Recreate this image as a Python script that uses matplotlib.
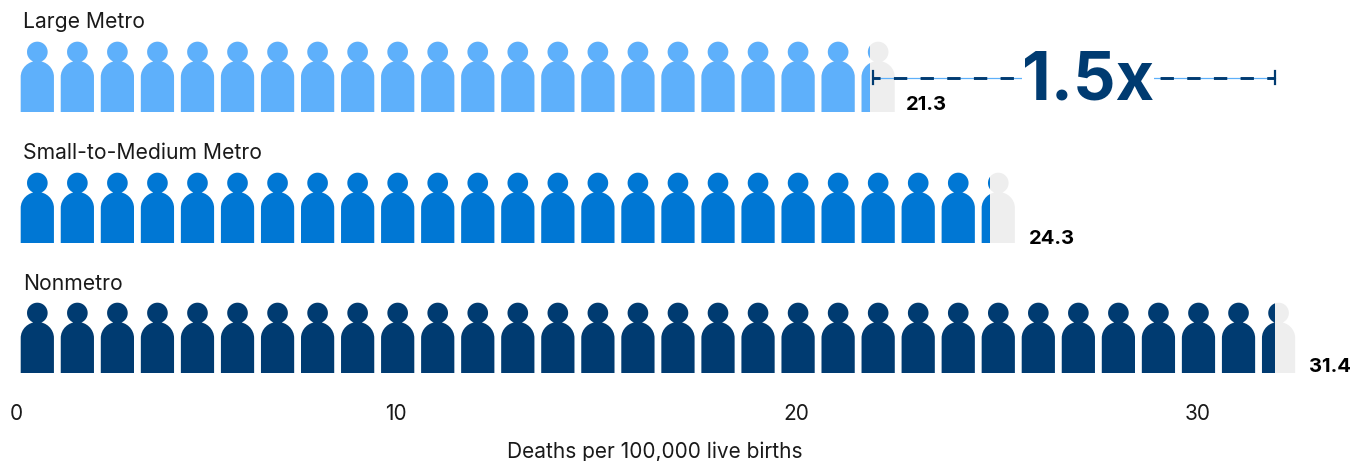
import numpy as np
import matplotlib.pyplot as plt
from matplotlib.path import Path
from matplotlib.patches import PathPatch, Rectangle

# Datos
categorias = ['Large Metro', 'Small-to-Medium Metro', 'Nonmetro']
tasas = [21.3, 24.3, 31.4]
colores = ['#5EB0FB', '#0077D4', '#003B71']
etiquetas_eje = ['0', '10', '20', '30']
posiciones_eje = [-0.03, 9.45, 19.46, 29.47]

GRIS = '#EEEEEE'
PX_POR_UNIDAD = 40.04
X0_PX = 17.3
bases = [112, 243, 373]
y_categorias = [22, 153, 284]
y_valores = [105, 239, 367]
x_valores = [22.19, 25.265, 32.265]


def figura_persona(cx, base):
    # Silueta: cabeza redonda y cuerpo en arco, medidas en pixeles
    ancho = 33.2 / PX_POR_UNIDAD / 2
    k = 0.5523
    alto_hombro = 35.0
    alto_total = 51.0
    cuerpo = [
        (cx - ancho, base), (cx - ancho, base - alto_hombro),
        (cx - ancho, base - alto_hombro - (alto_total - alto_hombro) * k),
        (cx - ancho * k, base - alto_total), (cx, base - alto_total),
        (cx + ancho * k, base - alto_total),
        (cx + ancho, base - alto_hombro - (alto_total - alto_hombro) * k),
        (cx + ancho, base - alto_hombro), (cx + ancho, base), (cx - ancho, base),
    ]
    codes = [Path.MOVETO, Path.LINETO, Path.CURVE4, Path.CURVE4, Path.CURVE4,
             Path.CURVE4, Path.CURVE4, Path.CURVE4, Path.LINETO, Path.CLOSEPOLY]
    # Cabeza
    t = np.linspace(0, 2 * np.pi, 60)
    r = 10.3
    cabeza = np.column_stack([cx + r / PX_POR_UNIDAD * np.cos(t), base - 60 + r * np.sin(t)])
    codes_cabeza = [Path.MOVETO] + [Path.LINETO] * 58 + [Path.CLOSEPOLY]
    return Path(np.vstack([cuerpo, cabeza]), codes + codes_cabeza)


plt.rcParams['font.family'] = ['Inter', 'DejaVu Sans']
plt.rcParams['lines.scale_dashes'] = False

fig = plt.figure(figsize=(13.53, 4.61), dpi=100)
ax = fig.add_axes([0, 1 - 398 / 461, 1, 398 / 461])
ax.set_xlim(-X0_PX / PX_POR_UNIDAD, (1353 - X0_PX) / PX_POR_UNIDAD)
ax.set_ylim(398, 0)

for n, (categoria, tasa, color, base) in enumerate(zip(categorias, tasas, colores, bases)):
    completas = int(np.floor(tasa))
    for i in range(completas + 1):
        cx = i + 0.5
        ax.add_patch(PathPatch(figura_persona(cx, base), facecolor=GRIS, edgecolor='none'))
        p = PathPatch(figura_persona(cx, base), facecolor=color, edgecolor='none')
        ax.add_patch(p)
        # Solo se pinta de color hasta el valor de la tasa
        corte = Rectangle((0, 0), tasa, 398, transform=ax.transData)
        p.set_clip_path(corte)
    ax.text(0.14, y_categorias[n], categoria, fontsize=15.2, color='#1a1a1a', va='center', ha='left')
    ax.text(x_valores[n], y_valores[n], str(tasa), fontsize=14.5, fontweight='bold', color='black',
            va='center', ha='left')

# Comparacion entre Large Metro y Nonmetro
y_linea = 78
inicio = tasas[0] + 0.06
fin = tasas[2]
ax.plot([inicio, fin], [y_linea, y_linea], color='#5EB0FB', lw=0.9, zorder=3)
ax.plot([inicio, fin], [y_linea, y_linea], color='#003B71', lw=2.1, zorder=3,
        linestyle=(4.5, (9.6, 9.6)))
ax.plot([inicio, inicio], [71.5, 84.5], color='#003B71', lw=1.6, zorder=4)
ax.plot([fin, fin], [71.5, 84.5], color='#003B71', lw=1.6, zorder=4)
ax.text(26.75, 82, f'{fin / tasas[0]:.1f}x', fontsize=48, fontweight='bold', color='#003B71',
        ha='center', va='center', zorder=5,
        bbox=dict(facecolor='white', edgecolor='none', pad=0))

ax.set_xticks(posiciones_eje)
ax.set_xticklabels(etiquetas_eje, fontsize=15, color='#1a1a1a')
ax.tick_params(axis='x', length=0, pad=4)
ax.set_yticks([])
for lado in ax.spines.values():
    lado.set_visible(False)
ax.text(15.93, 452, 'Deaths per 100,000 live births', fontsize=15, color='#1a1a1a',
        ha='center', va='center', clip_on=False)

fig.savefig('out.png', dpi=100)
